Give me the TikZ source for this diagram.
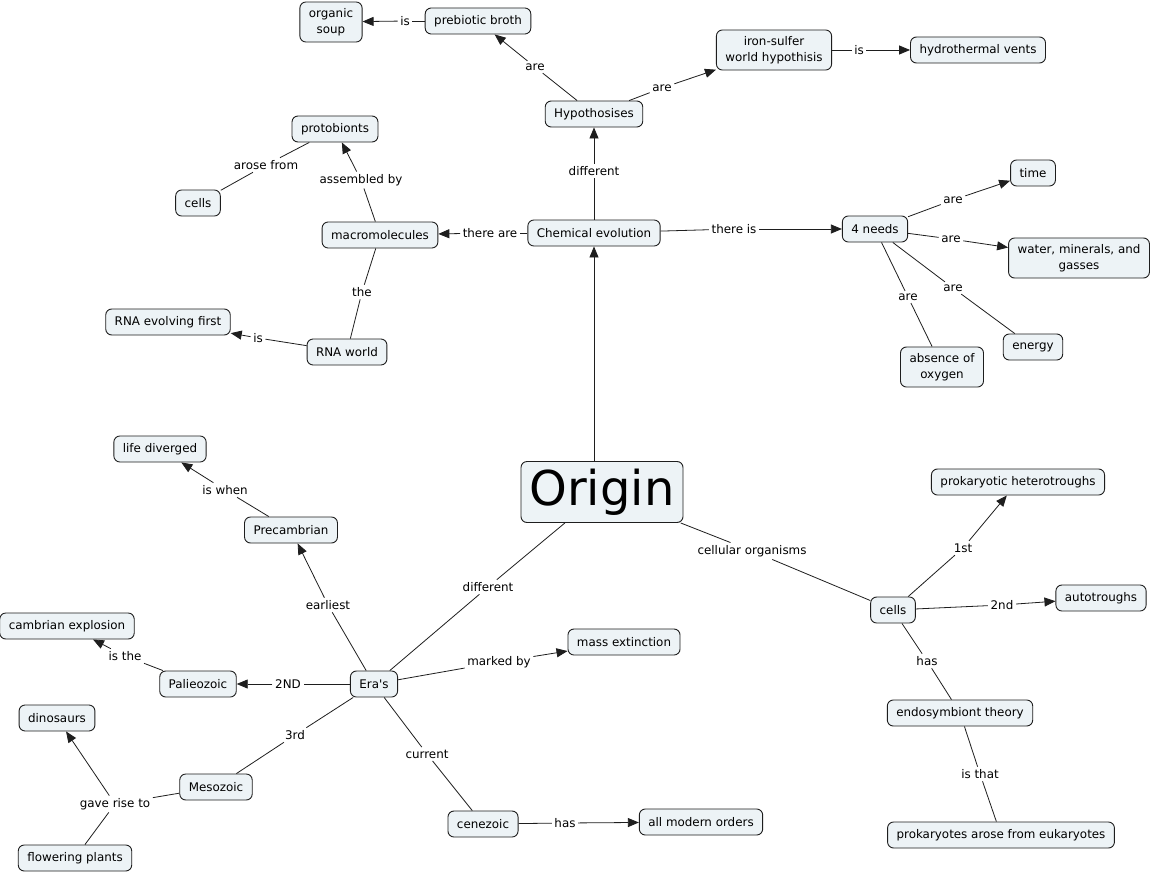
\documentclass[tikz,border=0pt]{standalone}
\usepackage{fontspec}
\setmainfont{DejaVu Sans}
\usetikzlibrary{arrows.meta}
\definecolor{cfill}{RGB}{237,243,246}
\definecolor{cline}{RGB}{30,30,30}
\newcommand\cmfont{\fontsize{11.9}{15.5}\selectfont}
\tikzset{
  concept/.style={draw=cline, fill=cfill, rounded corners=6pt, line width=0.9pt,
    inner xsep=9pt, inner ysep=6.5pt, minimum height=26pt, align=center, font=\cmfont},
  lnk/.style={inner sep=2.5pt, font=\cmfont},
  con/.style={draw=cline, line width=0.8pt},
  arr/.style={con, -{Triangle[length=11pt,width=9pt]}}
}
\begin{document}
\begin{tikzpicture}[x=1pt,y=-1pt]
\useasboundingbox (0,0) rectangle (1153,875);
\fill[white] (0,0) rectangle (1153,875);
% concepts
\node[concept] (soup) at (331,22) {organic\\soup};
\node[concept] (broth) at (478,21) {prebiotic broth};
\node[concept] (iron) at (774,50) {iron-sulfer\\world hypothisis};
\node[concept] (vents) at (978,50) {hydrothermal vents};
\node[concept] (hyp) at (594,114) {Hypothosises};
\node[concept] (chem) at (594,233) {Chemical evolution};
\node[concept] (macro) at (380,235) {macromolecules};
\node[concept] (needs) at (875,229) {4 needs};
\node[concept] (proto) at (335,129) {protobionts};
\node[concept] (cellsA) at (198,203) {cells};
\node[concept] (rnaw) at (347,352) {RNA world};
\node[concept] (rnaf) at (168,322) {RNA evolving first};
\node[concept] (time) at (1033,173) {time};
\node[concept] (water) at (1079,258) {water, minerals, and\\gasses};
\node[concept] (absence) at (942,367) {absence of\\oxygen};
\node[concept] (energy) at (1033,347) {energy};
\node[concept, font=\fontsize{48}{52}\selectfont, minimum width=162pt, minimum height=61pt, inner sep=4pt] (origin) at (602,492) {Origin};
\node[concept] (cellsB) at (893,610) {cells};
\node[concept] (proH) at (1018,482) {prokaryotic heterotroughs};
\node[concept] (auto) at (1101,598) {autotroughs};
\node[concept] (endo) at (960,713) {endosymbiont theory};
\node[concept] (prok) at (1001,835) {prokaryotes arose from eukaryotes};
\node[concept] (eras) at (374,684) {Era\textquotesingle s};
\node[concept] (pre) at (291,530) {Precambrian};
\node[concept] (life) at (160,449) {life diverged};
\node[concept] (mass) at (624,642) {mass extinction};
\node[concept] (pal) at (198,684) {Palieozoic};
\node[concept] (camb) at (67,626) {cambrian explosion};
\node[concept] (meso) at (216,787) {Mesozoic};
\node[concept] (dino) at (57,718) {dinosaurs};
\node[concept] (flow) at (75,858) {flowering plants};
\node[concept] (cen) at (483,824) {cenezoic};
\node[concept] (all) at (701,822) {all modern orders};
% linking phrases
\node[lnk] (l1) at (405,21) {is};
\node[lnk] (l2) at (859,50) {is};
\node[lnk] (l3) at (535,67) {are};
\node[lnk] (l4) at (662,88) {are};
\node[lnk] (l5) at (594,171) {different};
\node[lnk] (l6) at (490,233) {there are};
\node[lnk] (l7) at (734,229) {there is};
\node[lnk] (l8) at (361,180) {assembled by};
\node[lnk] (l9) at (266,165) {arose from};
\node[lnk] (l10) at (362,292) {the};
\node[lnk] (l11) at (258,338) {is};
\node[lnk] (l12) at (953,200) {are};
\node[lnk] (l13) at (951,239) {are};
\node[lnk] (l14) at (908,297) {are};
\node[lnk] (l15) at (953,288) {are};
\node[lnk] (l16) at (752,551) {cellular organisms};
\node[lnk] (l17) at (963,548) {1st};
\node[lnk] (l18) at (1002,605) {2nd};
\node[lnk] (l19) at (927,661) {has};
\node[lnk] (l20) at (980,774) {is that};
\node[lnk] (l21) at (488,587) {different};
\node[lnk] (l22) at (328,605) {earliest};
\node[lnk] (l23) at (225,490) {is when};
\node[lnk] (l24) at (499,662) {marked by};
\node[lnk] (l25) at (288,684) {2ND};
\node[lnk] (l26) at (125,656) {is the};
\node[lnk] (l27) at (295,735) {3rd};
\node[lnk] (l28) at (115,804) {gave rise to};
\node[lnk] (l29) at (427,754) {current};
\node[lnk] (l30) at (565,823) {has};
% connectors
\draw[con] (broth) -- (l1); \draw[arr] (l1) -- (soup);
\draw[con] (iron) -- (l2); \draw[arr] (l2) -- (vents);
\draw[con] (hyp) -- (l3); \draw[arr] (l3) -- (broth);
\draw[con] (hyp) -- (l4); \draw[arr] (l4) -- (iron);
\draw[con] (chem) -- (l5); \draw[arr] (l5) -- (hyp);
\draw[con] (chem) -- (l6); \draw[arr] (l6) -- (macro);
\draw[con] (chem) -- (l7); \draw[arr] (l7) -- (needs);
\draw[con] (macro) -- (l8); \draw[arr] (l8) -- (proto);
\draw[con] (proto) -- (l9); \draw[con] (l9) -- (cellsA);
\draw[con] (macro) -- (l10); \draw[con] (l10) -- (rnaw);
\draw[con] (rnaw) -- (l11); \draw[arr] (l11) -- (rnaf);
\draw[con] (needs) -- (l12); \draw[arr] (l12) -- (time);
\draw[con] (needs) -- (l13); \draw[arr] (l13) -- (water);
\draw[con] (needs) -- (l14); \draw[con] (l14) -- (absence);
\draw[con] (needs) -- (l15); \draw[con] (l15) -- (energy);
\draw[arr] (origin.north -| chem) -- (chem);
\draw[con] (origin) -- (l16); \draw[con] (l16) -- (cellsB);
\draw[con] (cellsB) -- (l17); \draw[arr] (l17) -- (proH);
\draw[con] (cellsB) -- (l18); \draw[arr] (l18) -- (auto);
\draw[con] (cellsB) -- (l19); \draw[con] (l19) -- (endo);
\draw[con] (endo) -- (l20); \draw[con] (l20) -- (prok);
\draw[con] (origin) -- (l21); \draw[con] (l21) -- (eras);
\draw[con] (eras) -- (l22); \draw[arr] (l22) -- (pre);
\draw[con] (pre) -- (l23); \draw[arr] (l23) -- (life);
\draw[con] (eras) -- (l24); \draw[arr] (l24) -- (mass);
\draw[con] (eras) -- (l25); \draw[arr] (l25) -- (pal);
\draw[con] (pal) -- (l26); \draw[arr] (l26) -- (camb);
\draw[con] (eras) -- (l27); \draw[con] (l27) -- (meso);
\draw[con] (meso) -- (l28); \draw[arr] (l28) -- (dino); \draw[con] (l28) -- (flow);
\draw[con] (eras) -- (l29); \draw[con] (l29) -- (cen);
\draw[con] (cen) -- (l30); \draw[arr] (l30) -- (all);
\end{tikzpicture}
\end{document}
